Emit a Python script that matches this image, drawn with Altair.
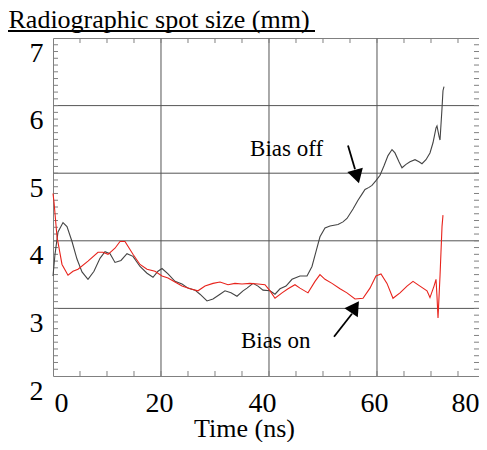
import altair as alt
import pandas as pd

# ---- data ----
time_off = [0, 0.37, 0.93, 1.85, 2.59, 3.52, 4.44, 5.37, 6.48, 7.59, 8.70, 9.63, 10.56, 11.48,
            12.59, 13.70, 14.81, 16.11, 17.41, 18.52, 19.44, 20.19, 21.30, 22.59, 23.89, 25.00,
            26.30, 27.22, 28.52, 29.63, 30.93, 31.85, 32.96, 34.07, 35.19, 35.93, 37.04, 37.96,
            38.89, 40.19, 41.11, 42.04, 43.15, 44.26, 45.74, 47.04, 47.96, 48.70, 49.44, 50.37,
            51.30, 52.78, 53.70, 54.44, 55.56, 56.48, 57.22, 57.78, 58.52, 59.07, 59.81, 60.56,
            61.30, 62.04, 62.78, 63.33, 64.07, 64.63, 65.37, 66.11, 67.04, 67.78, 68.33, 69.07,
            69.81, 70.37, 70.93, 71.11, 71.48, 71.67, 72.04, 72.22, 72.41]
size_off = [3.48, 3.80, 4.13, 4.27, 4.21, 3.99, 3.73, 3.54, 3.43, 3.55, 3.74, 3.84, 3.81, 3.68,
            3.71, 3.81, 3.77, 3.62, 3.52, 3.46, 3.55, 3.59, 3.51, 3.40, 3.36, 3.30,
            3.27, 3.21, 3.11, 3.14, 3.21, 3.26, 3.23, 3.18, 3.26, 3.30, 3.37, 3.33,
            3.27, 3.26, 3.21, 3.29, 3.33, 3.43, 3.48, 3.48, 3.62, 3.84, 4.06, 4.19,
            4.22, 4.24, 4.28, 4.33, 4.47, 4.60, 4.69, 4.76, 4.79, 4.82, 4.89, 4.97,
            5.11, 5.26, 5.35, 5.30, 5.17, 5.08, 5.13, 5.17, 5.20, 5.17, 5.14, 5.20,
            5.30, 5.45, 5.67, 5.70, 5.55, 5.49, 5.96, 6.22, 6.28]

time_on = [0, 0.19, 0.74, 1.67, 2.78, 3.70, 4.63, 6.48, 8.33, 9.26, 10.19, 11.48, 12.41, 13.33,
           14.81, 16.11, 17.41, 18.89, 20.19, 21.30, 22.59, 23.89, 25.37, 26.85, 28.15, 29.63,
           30.93, 32.41, 33.70, 35.00, 36.48, 37.96, 39.26, 40.19, 41.11, 42.41, 43.52, 44.81,
           45.74, 47.22, 48.52, 49.44, 50.37, 51.67, 53.15, 54.44, 55.93, 57.41, 58.70, 59.81,
           60.74, 61.85, 62.96, 64.26, 65.56, 66.67, 67.96, 69.26, 69.81, 70.56, 70.93, 71.11,
           71.30, 71.67, 72.04, 72.22]
size_on = [4.70, 4.57, 4.06, 3.65, 3.49, 3.55, 3.58, 3.70, 3.83, 3.83, 3.80, 3.89, 3.99, 3.99,
           3.80, 3.65, 3.58, 3.55, 3.48, 3.45, 3.39, 3.33, 3.29, 3.26, 3.33, 3.37,
           3.39, 3.35, 3.37, 3.36, 3.37, 3.36, 3.35, 3.26, 3.15, 3.23, 3.29, 3.35,
           3.30, 3.23, 3.40, 3.50, 3.43, 3.37, 3.29, 3.23, 3.14, 3.15, 3.30, 3.48,
           3.51, 3.37, 3.15, 3.23, 3.33, 3.40, 3.33, 3.26, 3.16, 3.33, 3.43, 3.18,
           2.86, 3.48, 4.21, 4.38]

series_names = ["Bias off", "Bias on"]
series_colors = ["#444444", "#e8231c"]

# the scanned frame ends a little before 80 ns
x_domain = [0, 78.89]
y_domain = [2, 7]
x_grid = [20, 40, 60]
y_grid = [3, 4, 5, 6]
y_labels = [2, 3, 4, 5, 6, 7]
# where the pasted-on tick labels 0, 20, 40, 60, 80 sit in the scan
x_label_pos = [1.48, 19.63, 38.70, 59.44, 76.3]
x_minor = [5, 10, 15, 20, 25, 30, 35, 40, 45, 50, 55, 60, 65, 70, 75]
y_minor = [round(2 + 0.1 * i, 1) for i in range(1, 50)]

# annotations
label_text = ["Bias off", "Bias on"]
label_x = [36.5, 34.8]
label_y = [5.25, 2.42]
arrow_x1 = [54.63, 52.04]
arrow_y1 = [5.41, 2.58]
arrow_x2 = [55.93, 55.37]
arrow_y2 = [5.06, 2.92]
head_x = [56.30, 55.93]
head_y = [4.95, 3.02]
head_angle = [164, 34]

FONT = "Liberation Serif, Times New Roman, DejaVu Serif, serif"
W, H = 426, 338

df = pd.concat([
    pd.DataFrame({"t": time_off, "s": size_off, "series": series_names[0]}),
    pd.DataFrame({"t": time_on, "s": size_on, "series": series_names[1]}),
])
ann = pd.DataFrame({"text": label_text, "x": label_x, "y": label_y,
                    "x1": arrow_x1, "y1": arrow_y1, "x2": arrow_x2, "y2": arrow_y2,
                    "hx": head_x, "hy": head_y, "ang": head_angle})
xg = pd.DataFrame({"t": x_grid})
yg = pd.DataFrame({"s": y_grid})
xm = pd.DataFrame({"t": x_minor})
ym = pd.DataFrame({"s": y_minor})
dummy = pd.DataFrame({"t": [0]})

xs = alt.Scale(domain=x_domain, nice=False, zero=False)
ys = alt.Scale(domain=y_domain, nice=False, zero=False)

grid_x = alt.Chart(xg).mark_rule(color="#555555", strokeWidth=1).encode(
    x=alt.X("t:Q", scale=xs, axis=None))
grid_y = alt.Chart(yg).mark_rule(color="#555555", strokeWidth=1).encode(
    y=alt.Y("s:Q", scale=ys, axis=None))

TICK = "#808080"
tick_b = alt.Chart(xm).mark_rule(color=TICK).encode(
    x=alt.X("t:Q", scale=xs, axis=None), y=alt.value(H - 5), y2=alt.value(H))
tick_t = alt.Chart(xm).mark_rule(color=TICK).encode(
    x=alt.X("t:Q", scale=xs, axis=None), y=alt.value(0), y2=alt.value(5))
tick_l = alt.Chart(ym).mark_rule(color=TICK).encode(
    y=alt.Y("s:Q", scale=ys, axis=None), x=alt.value(0), x2=alt.value(5))
tick_r = alt.Chart(ym).mark_rule(color=TICK).encode(
    y=alt.Y("s:Q", scale=ys, axis=None), x=alt.value(W - 5), x2=alt.value(W))

lines = alt.Chart(df).mark_line(strokeWidth=1.1).encode(
    x=alt.X("t:Q", scale=xs, axis=alt.Axis(
        values=x_label_pos, labelExpr="format(round(datum.value / 20) * 20, 'd')",
        grid=False, ticks=False, domain=False, labelFlush=False,
        labelFont=FONT, labelFontSize=28, labelColor="black", labelPadding=13,
        title="Time (ns)", titleFont=FONT, titleFontSize=26, titleFontWeight="normal",
        titleColor="black", titleX=191, titleY=60, titleBaseline="alphabetic")),
    y=alt.Y("s:Q", scale=ys, axis=alt.Axis(
        values=y_labels, grid=False, ticks=False, domain=False,
        labelFont=FONT, labelFontSize=28, labelColor="black", labelPadding=10, labelOffset=15,
        labelBaseline="middle",
        title="Radiographic spot size (mm)", titleFont=FONT, titleFontSize=26,
        titleFontWeight="normal", titleColor="black", titleAngle=0, titleAlign="left",
        titleX=-45, titleY=-11, titleBaseline="alphabetic")),
    color=alt.Color("series:N", scale=alt.Scale(domain=series_names, range=series_colors),
                    legend=None),
)

texts = alt.Chart(ann).mark_text(font=FONT, fontSize=23, align="left", baseline="alphabetic",
                                 color="black").encode(
    x=alt.X("x:Q", scale=xs, axis=None), y=alt.Y("y:Q", scale=ys, axis=None), text="text:N")
arrows = alt.Chart(ann).mark_rule(color="black", strokeWidth=1.8).encode(
    x=alt.X("x1:Q", scale=xs, axis=None), y=alt.Y("y1:Q", scale=ys, axis=None), x2="x2:Q", y2="y2:Q")
heads = alt.Chart(ann).mark_point(shape="triangle-up", filled=True, color="black", size=260,
                                  opacity=1).encode(
    x=alt.X("hx:Q", scale=xs, axis=None), y=alt.Y("hy:Q", scale=ys, axis=None),
    angle=alt.Angle("ang:Q", scale=None))

underline = alt.Chart(dummy).mark_rule(color="black", strokeWidth=2.2).encode(
    x=alt.value(-45), x2=alt.value(262), y=alt.value(-7))

chart = alt.layer(grid_x, grid_y, tick_b, tick_t, tick_l, tick_r, lines, texts, arrows, heads,
                  underline).resolve_axis(x="independent", y="independent").properties(
    width=W, height=H,
    autosize=alt.AutoSizeParams(type="none"),
    padding={"left": 45, "top": 30, "right": 0, "bottom": 66},
    background="white",
).configure_view(stroke="#808080", strokeWidth=1)

chart.save("out.html", embed_options={"renderer": "svg", "actions": False})
